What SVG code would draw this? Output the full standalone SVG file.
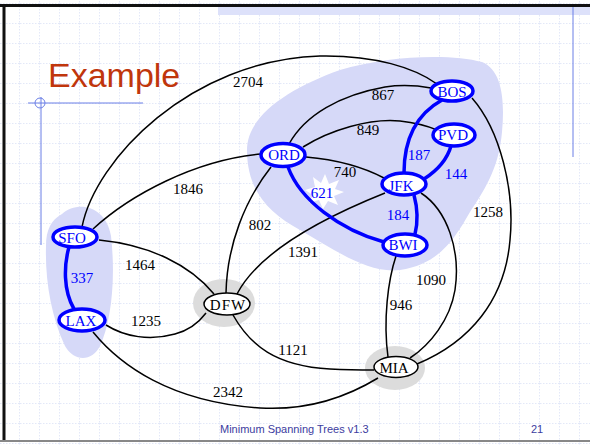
<svg xmlns="http://www.w3.org/2000/svg" width="590" height="446" viewBox="0 0 590 446">
<defs>
<pattern id="grid" width="20" height="20" patternUnits="userSpaceOnUse" x="0" y="3">
<path d="M0,0.5 H20 M19.5,0 V20" fill="none" stroke="#e3e8f8" stroke-width="1" stroke-dasharray="1.5,1.5"/>
</pattern>
<style>
.e{fill:none;stroke:#000;stroke-width:1.5}
.b{fill:none;stroke:#0000ff;stroke-width:3.5}
.nb{fill:#fff;stroke:#0000ff;stroke-width:3.5}
.nk{fill:#fff;stroke:#000;stroke-width:1.5}
.t{font-family:"Liberation Serif","Times New Roman",serif;font-size:15px;text-anchor:middle}
.tk{fill:#000}
.tb{fill:#0000ff}
.ft{font-family:"Liberation Sans",Arial,sans-serif;font-size:11px;fill:#3c3ca0}
.deco{stroke:#6b7fe6;stroke-width:1;fill:none}
</style>
</defs>
<rect width="590" height="446" fill="#fff"/>
<rect x="0" y="0" width="590" height="446" fill="url(#grid)"/>
<rect x="218" y="7" width="372" height="8" fill="#dde1fa"/>
<line class="deco" x1="573" y1="6" x2="573" y2="157"/>
<line x1="0" y1="5.5" x2="590" y2="5.5" stroke="#111" stroke-width="3"/>
<line x1="4" y1="5" x2="4" y2="441" stroke="#111" stroke-width="3"/>
<line x1="0" y1="441" x2="590" y2="441" stroke="#888" stroke-width="2"/>
<g id="title">
<text x="48" y="87" font-family="'Liberation Sans',Arial,sans-serif" font-size="34" fill="#c0360c">Example</text>
<line class="deco" x1="28" y1="103" x2="143" y2="103"/>
<line class="deco" x1="41" y1="97" x2="41" y2="245"/>
<circle class="deco" cx="40" cy="103" r="5"/>
</g>
<g id="clusters">
<path d="M247,150 C247,115 290,88 340,70 C385,56 450,53 482,62 C502,70 505,100 502,132 C499,165 488,185 470,212 C455,238 440,264 400,270 C368,274 335,250 300,230 C268,213 247,190 247,150 Z" fill="#d6d9f8"/>
<path d="M62,214 C78,200 106,206 111,236 C116,280 111,322 100,346 C92,362 74,362 65,346 C51,316 45,280 46,246 C46,230 51,220 62,214 Z" fill="#d6d9f8"/>
<ellipse cx="224" cy="303" rx="31" ry="24" fill="#dcdcdc"/>
<ellipse cx="395" cy="368" rx="30" ry="22" fill="#dcdcdc"/>
<polygon points="325,174 329,184 339,180 335,189 344,192 334,196 338,205 328,201 323,209 319,200 309,203 313,195 305,190 315,187 313,177 321,183" fill="#fff"/>
</g>
<g id="connectors">
<path class="e" d="M82,227 C95,160 190,60 320,56 C375,55 415,68 437,84"/>
<path class="e" d="M289,144 C305,115 340,95 385,87 C405,84 420,86 431,88"/>
<path class="e" d="M303,147 C330,130 370,118 400,121 C418,123 430,127 437,130"/>
<path class="e" d="M93,229 C130,195 195,160 261,154"/>
<path class="e" d="M306,157 C340,160 365,168 384,178"/>
<path class="e" d="M271,167 C245,200 227,245 226,293"/>
<path class="e" d="M385,193 C330,215 260,250 237,294"/>
<path class="e" d="M99,240 C150,245 190,265 214,294"/>
<path class="e" d="M106,325 C125,337 150,341 175,334 C190,330 200,321 206,313"/>
<path class="e" d="M233,315 C250,345 275,366 330,369 C350,370 360,370 374,370"/>
<path class="e" d="M93,332 C120,365 170,402 260,408 C310,411 350,395 378,378"/>
<path class="e" d="M472,98 C500,130 515,190 510,240 C505,300 470,342 417,364"/>
<path class="e" d="M421,193 C447,210 461,250 455,290 C450,320 430,345 410,358"/>
<path class="e" d="M396,256 C388,280 383,320 388,357"/>
<path class="b" d="M288,167 C300,200 340,230 384,242"/>
<path class="b" d="M404,173 C404,140 415,115 442,100"/>
<path class="b" d="M424,179 C438,170 447,160 451,146"/>
<path class="b" d="M414,195 C418,210 418,222 415,234"/>
<path class="b" d="M69,247 C64,265 63,290 74,309"/>
</g>
<g id="node-BOS"><ellipse class="nb" cx="452" cy="91" rx="21" ry="10"/><text class="t tb" x="452" y="97">BOS</text></g>
<g id="node-PVD"><ellipse class="nb" cx="454" cy="135" rx="21" ry="11"/><text class="t tb" x="453" y="140">PVD</text></g>
<g id="node-ORD"><ellipse class="nb" cx="283" cy="155" rx="22" ry="11.5"/><text class="t tb" x="284" y="160">ORD</text></g>
<g id="node-JFK"><ellipse class="nb" cx="404" cy="184" rx="22" ry="11"/><text class="t tb" x="401" y="191">JFK</text></g>
<g id="node-BWI"><ellipse class="nb" cx="405" cy="245" rx="22" ry="11"/><text class="t tb" x="403" y="250">BWI</text></g>
<g id="node-SFO"><ellipse class="nb" cx="75" cy="237" rx="22" ry="10"/><text class="t tb" x="72" y="243">SFO</text></g>
<g id="node-LAX"><ellipse class="nb" cx="82" cy="320" rx="23" ry="11"/><text class="t tb" x="81" y="326">LAX</text></g>
<g id="node-DFW"><ellipse class="nk" cx="227" cy="304" rx="23" ry="11"/><text class="t tk" x="228" y="310" letter-spacing="1">DFW</text></g>
<g id="node-MIA"><ellipse class="nk" cx="396" cy="367" rx="22" ry="10.5"/><text class="t tk" x="394" y="373">MIA</text></g>
<g id="edge-labels">
<text class="t tk" x="248" y="87">2704</text>
<text class="t tk" x="383" y="100">867</text>
<text class="t tk" x="368" y="135">849</text>
<text class="t tk" x="188" y="194">1846</text>
<text class="t tk" x="345" y="177">740</text>
<text class="t tk" x="260" y="230">802</text>
<text class="t tk" x="303" y="257">1391</text>
<text class="t tk" x="140" y="270">1464</text>
<text class="t tk" x="146" y="326">1235</text>
<text class="t tk" x="293" y="355">1121</text>
<text class="t tk" x="228" y="397">2342</text>
<text class="t tk" x="488" y="217">1258</text>
<text class="t tk" x="431" y="285">1090</text>
<text class="t tk" x="401" y="310">946</text>
<text class="t tb" x="322" y="198">621</text>
<text class="t tb" x="419" y="160">187</text>
<text class="t tb" x="456" y="179">144</text>
<text class="t tb" x="398" y="220">184</text>
<text class="t tb" x="82" y="283">337</text>
</g>
<g id="footer">
<text class="ft" x="220" y="433">Minimum Spanning Trees v1.3</text>
<text class="ft" x="537" y="433" text-anchor="middle">21</text>
</g>
</svg>
